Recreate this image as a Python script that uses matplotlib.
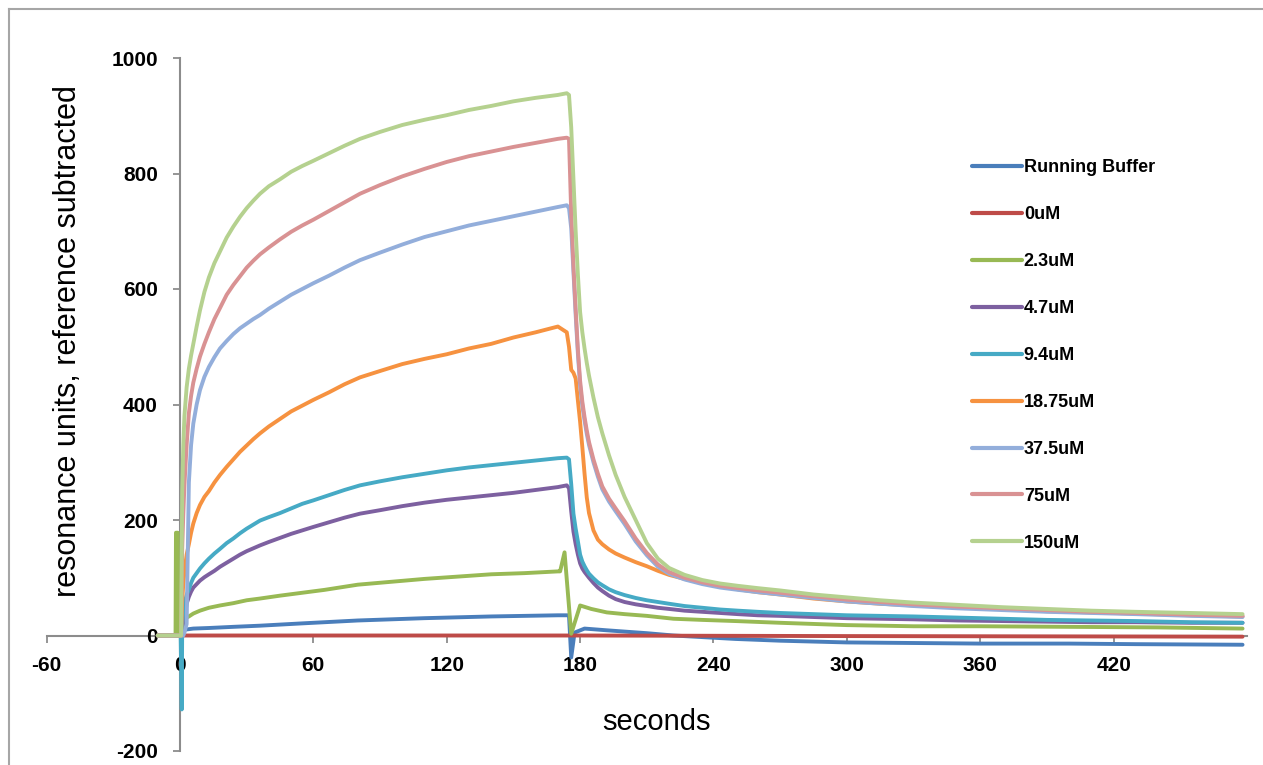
import matplotlib
matplotlib.use("Agg")
import matplotlib.pyplot as plt
from matplotlib.lines import Line2D

# ---------------- data ----------------
series_labels = ["Running Buffer", "0uM", "2.3uM", "4.7uM", "9.4uM",
                 "18.75uM", "37.5uM", "75uM", "150uM"]
series_colors = ["#4A7EBB", "#BE4B48", "#98B954", "#7D60A0", "#46AAC5",
                 "#F69240", "#93AEDB", "#D99293", "#B5D18F"]

x_ticks = [-60, 0, 60, 120, 180, 240, 300, 360, 420]
y_ticks = [-200, 0, 200, 400, 600, 800, 1000]

# time grids (seconds)
t_pre = [-10, 0.5]
t_teal_pre = [-10, 0.3, 0.8]
t_assoc = [1, 1.5, 2, 3, 4, 5, 6, 7.5, 9, 11, 13, 15.5, 18, 21, 24, 27, 30, 33,
           36, 40, 45, 50, 55, 60, 67, 74, 81, 90, 100, 110, 120, 130, 140, 150,
           160, 170, 174]
t_diss = [175, 176, 177, 178, 179, 180, 181, 182, 183, 184, 186, 188, 190, 193,
          196, 200, 205, 210, 215, 220, 227, 235, 243, 251, 260, 270, 285, 300,
          315, 330, 350, 370, 390, 410, 430, 455, 478]

pre_y = [0, 0]
teal_pre_y = [0, 0, -128]

buffer_t = [-10, -1, 0.5, 1, 2, 6, 13, 24, 36, 55, 80, 110, 140, 170, 175, 176,
            177.5, 182, 192, 210, 222, 250, 270, 300, 360, 400, 430, 478]
buffer_y = [0, 0, 0, 8, 10, 12, 13, 15, 17, 21, 26, 30, 33, 35, 35, -38,
            5, 12, 9, 4, 0, -6, -9, -12, -14, -14, -15, -16]

zero_t = [-10, 0, 180, 300, 478]
zero_y = [0, 0, 0, -1, -2]

c2_3_t = [-10, -2, -1.8, -1.0, -0.8, 0.5, 1, 2, 3, 4, 6, 9, 13, 18, 24, 30, 36,
          45, 55, 65, 80, 95, 110, 125, 140, 155, 170, 171, 173, 176, 180, 185,
          192, 200, 210, 222, 235, 250, 270, 300, 330, 360, 400, 440, 478]
c2_3_y = [0, 0, 178, 178, 0, 0, 25, 28, 31, 33, 38, 43, 48, 52, 56, 61, 64,
          69, 74, 79, 88, 93, 98, 102, 106, 108, 111, 111, 144, 3, 52, 46,
          40, 37, 34, 29, 27, 25, 22, 18, 16, 16, 15, 14, 12]

c4_7_assoc = [5, 15, 30, 55, 67, 76, 83, 89, 95, 101, 106, 112, 119, 126, 133,
              140, 146, 151, 156, 162, 169, 176, 182, 188, 196, 204, 211, 217,
              224, 230, 235, 239, 243, 247, 252, 257, 260]
c4_7_diss = [255, 215, 180, 158, 140, 125, 116, 110, 105, 100, 91, 83, 77, 69,
             63, 58, 54, 51, 48, 46, 43, 41, 39, 37, 35, 34, 32, 30, 29, 28, 26,
             25, 24, 23, 23, 22, 22]

c9_4_assoc = [20, 40, 55, 70, 80, 91, 100, 108, 116, 125, 133, 142, 150, 160,
              168, 177, 185, 192, 199, 205, 212, 220, 228, 234, 243, 252, 260,
              267, 274, 280, 286, 291, 295, 299, 303, 307, 308]
c9_4_diss = [305, 262, 211, 185, 163, 140, 128, 120, 113, 107, 99, 92, 87, 80,
             75, 70, 65, 61, 58, 55, 51, 48, 45, 43, 41, 39, 37, 35, 34, 33, 31,
             29, 27, 26, 25, 23, 22]

c18_75_assoc = [60, 90, 110, 140, 158, 178, 194, 212, 226, 240, 250, 265, 278,
                292, 305, 318, 329, 340, 350, 362, 375, 388, 398, 408, 421, 435,
                447, 458, 470, 479, 487, 497, 505, 516, 525, 535, 525]
c18_75_diss = [500, 460, 455, 445, 407, 370, 326, 280, 239, 212, 182, 166, 158,
               149, 142, 135, 127, 120, 112, 105, 98, 91, 85, 80, 75, 71, 64, 59,
               55, 52, 49, 46, 42, 40, 38, 35, 33]

c37_5_assoc = [0, 0, 5, 20, 265, 330, 367, 400, 425, 448, 465, 482, 497, 510,
               522, 532, 540, 548, 555, 566, 578, 590, 600, 610, 623, 637, 650,
               663, 677, 690, 700, 710, 718, 726, 734, 742, 745]
c37_5_diss = [740, 705, 630, 555, 488, 433, 398, 372, 349, 330, 300, 275, 253,
              232, 215, 193, 163, 139, 119, 107, 97, 89, 83, 79, 75, 71, 65, 59,
              55, 51, 47, 44, 41, 39, 37, 34, 32]

c75_assoc = [150, 210, 260, 330, 385, 415, 438, 462, 483, 505, 525, 548, 567,
             590, 607, 622, 637, 649, 660, 672, 686, 699, 710, 720, 735, 750,
             765, 780, 795, 808, 820, 830, 838, 846, 853, 860, 862]
c75_diss = [860, 731, 640, 565, 495, 441, 405, 378, 355, 335, 305, 280, 258,
            237, 220, 198, 168, 143, 123, 110, 100, 92, 86, 82, 78, 74, 68, 62,
            58, 54, 50, 47, 44, 41, 39, 36, 34]

c150_assoc = [250, 330, 380, 430, 462, 485, 505, 535, 563, 595, 620, 645, 665,
              689, 708, 725, 740, 753, 765, 778, 790, 803, 813, 822, 835, 848,
              860, 872, 884, 893, 901, 910, 917, 925, 931, 936, 939]
c150_diss = [936, 880, 790, 700, 625, 560, 525, 497, 472, 450, 412, 378, 350,
             312, 278, 240, 200, 160, 133, 117, 105, 96, 90, 86, 82, 78, 71, 66,
             61, 57, 53, 49, 46, 43, 41, 39, 37]

main_t = t_pre + t_assoc + t_diss
teal_t = t_teal_pre + t_assoc + t_diss

series_t = [buffer_t, zero_t, c2_3_t, main_t, teal_t, main_t, main_t, main_t, main_t]
series_y = [buffer_y, zero_y, c2_3_y,
            pre_y + c4_7_assoc + c4_7_diss,
            teal_pre_y + c9_4_assoc + c9_4_diss,
            pre_y + c18_75_assoc + c18_75_diss,
            pre_y + c37_5_assoc + c37_5_diss,
            pre_y + c75_assoc + c75_diss,
            pre_y + c150_assoc + c150_diss]

# ---------------- figure ----------------
W, H = 1263, 765
fig = plt.figure(figsize=(W / 100, H / 100), dpi=100)
fig.patch.set_facecolor("white")

frame_col = "#A6A6A6"
fig.add_artist(Line2D([8.5 / W, 8.5 / W], [0, 1 - 8.5 / H], transform=fig.transFigure,
                      color=frame_col, lw=1.5))
fig.add_artist(Line2D([8.5 / W, 1], [1 - 8.5 / H, 1 - 8.5 / H], transform=fig.transFigure,
                      color=frame_col, lw=1.5))

left_px, right_px = 46.6, 1247.0
top_px, bot_px = 58.0, 751.0
ax = fig.add_axes([left_px / W, 1 - bot_px / H, (right_px - left_px) / W, (bot_px - top_px) / H])
ax.set_xlim(-60, 480)
ax.set_ylim(-200, 1000)
ax.patch.set_alpha(0)

for t, y, c, lab in zip(series_t, series_y, series_colors, series_labels):
    ax.plot(t, y, color=c, lw=2.8, label=lab, solid_joinstyle="round",
            solid_capstyle="round")

axis_col = "#8C8C8C"
for s in ["top", "right"]:
    ax.spines[s].set_visible(False)
ax.spines["left"].set_position(("data", 0))
ax.spines["bottom"].set_position(("data", 0))
for s in ["left", "bottom"]:
    ax.spines[s].set_color(axis_col)
    ax.spines[s].set_linewidth(1.5)
    ax.spines[s].set_zorder(0.5)
ax.spines["bottom"].set_bounds(-60, 480)

ax.set_xticks(x_ticks)
ax.set_yticks(y_ticks)
ax.set_xticklabels([str(v) for v in x_ticks])
ax.set_yticklabels([str(v) for v in y_ticks])
ax.tick_params(axis="both", direction="out", length=5, width=1.3, color=axis_col,
               labelsize=15)
ax.tick_params(axis="x", pad=10)
ax.tick_params(axis="y", pad=11)
for lbl in ax.get_xticklabels() + ax.get_yticklabels():
    lbl.set_fontweight("bold")
    lbl.set_fontfamily("Liberation Sans")

fig.text(656 / W, 1 - 722 / H, "seconds", ha="center", va="center",
         fontsize=21, family="Liberation Sans")
fig.text(68 / W, 1 - 341 / H, "resonance units, reference subtracted", ha="center",
         va="center", rotation=90, fontsize=22, family="Liberation Sans")

leg = fig.legend(loc="upper left", bbox_to_anchor=(972 / W, 1 - 159 / H),
                 bbox_transform=fig.transFigure, frameon=False,
                 handlelength=2.75, handletextpad=0.12, labelspacing=1.66,
                 borderpad=0, borderaxespad=0,
                 prop={"family": "Liberation Sans", "weight": "bold", "size": 13})
for line in leg.get_lines():
    line.set_linewidth(3)

fig.savefig("out.png", dpi=100)
